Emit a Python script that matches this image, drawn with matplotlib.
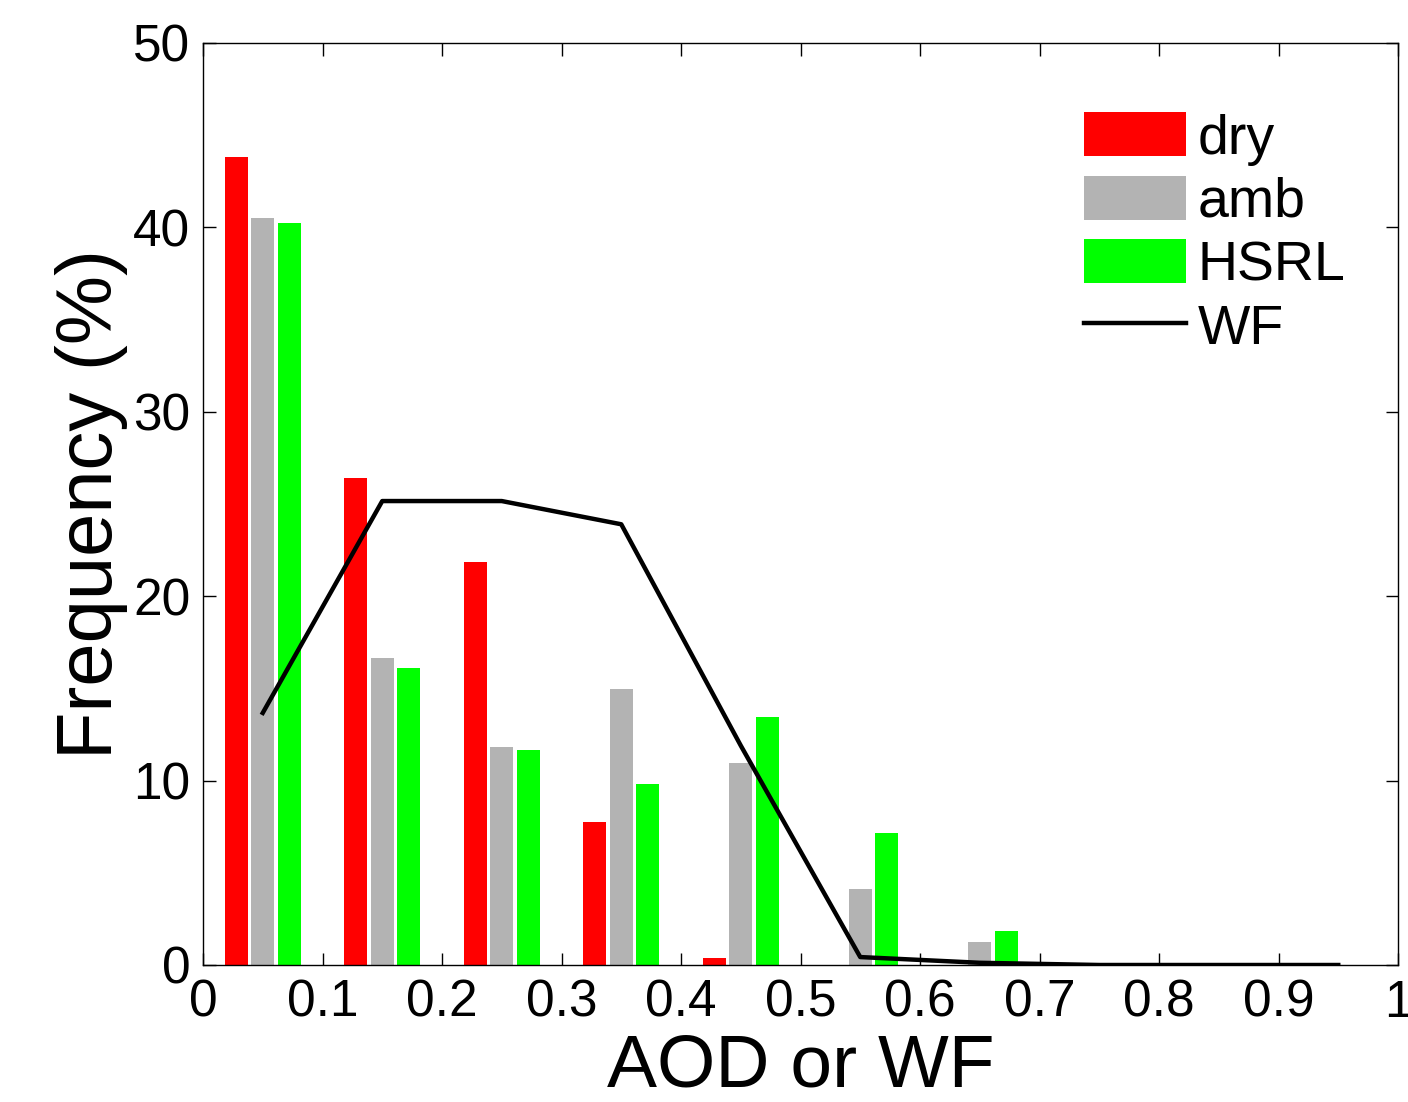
import numpy as np
import matplotlib
matplotlib.use("Agg")
import matplotlib.pyplot as plt

# bin centres (AOD or WF)
bins = [0.05, 0.15, 0.25, 0.35, 0.45, 0.55, 0.65, 0.75, 0.85, 0.95]

# frequency (%) per bin
dry = [43.8, 26.4, 21.85, 7.75, 0.4, 0, 0, 0, 0, 0]
amb = [40.5, 16.65, 11.8, 14.97, 10.95, 4.1, 1.26, 0, 0, 0]
hsrl = [40.25, 16.1, 11.66, 9.83, 13.45, 7.17, 1.84, 0, 0, 0]
wf = [13.67, 25.16, 25.16, 23.9, 11.9, 0.43, 0.12, 0, 0, 0]

plt.rcParams['font.family'] = ['Liberation Sans', 'DejaVu Sans']

fig = plt.figure(figsize=(14.08, 11.02), dpi=100)
ax = fig.add_axes([203/1408, 137/1102, 1195/1408, 922/1102])

x = np.array(bins)
w = 0.0195
off = 0.0222
b1 = ax.bar(x - off, dry, width=w, color=(1, 0, 0), edgecolor='none', label='dry')
b2 = ax.bar(x, amb, width=w, color=(0.7, 0.7, 0.7), edgecolor='none', label='amb')
b3 = ax.bar(x + off, hsrl, width=w, color=(0, 1, 0), edgecolor='none', label='HSRL')
ln, = ax.plot(x, wf, color='black', lw=3.2, label='WF')

ax.set_xlim(0, 1)
ax.set_ylim(0, 50)
ax.set_xticks(np.arange(0, 1.01, 0.1))
ax.set_xticklabels(['0', '0.1', '0.2', '0.3', '0.4', '0.5', '0.6', '0.7', '0.8', '0.9', '1'])
ax.set_yticks([0, 10, 20, 30, 40, 50])
ax.tick_params(direction='in', top=True, right=True, length=9, width=1,
               labelsize=37)
ax.tick_params(axis='x', pad=10)
ax.tick_params(axis='y', pad=9)
for s in ax.spines.values():
    s.set_linewidth(1)

ax.set_xlabel('AOD or WF', fontsize=54, labelpad=3)
ax.set_ylabel('Frequency (%)', fontsize=56, labelpad=4)

ax.legend(handles=[b1, b2, b3, ln], loc='upper left',
          bbox_to_anchor=(0.737, 0.925), frameon=False,
          fontsize=40, handlelength=1.85, handleheight=0.85, handletextpad=0.2,
          labelspacing=0.18, borderpad=0, borderaxespad=0)

fig.savefig('out.png', dpi=100)
